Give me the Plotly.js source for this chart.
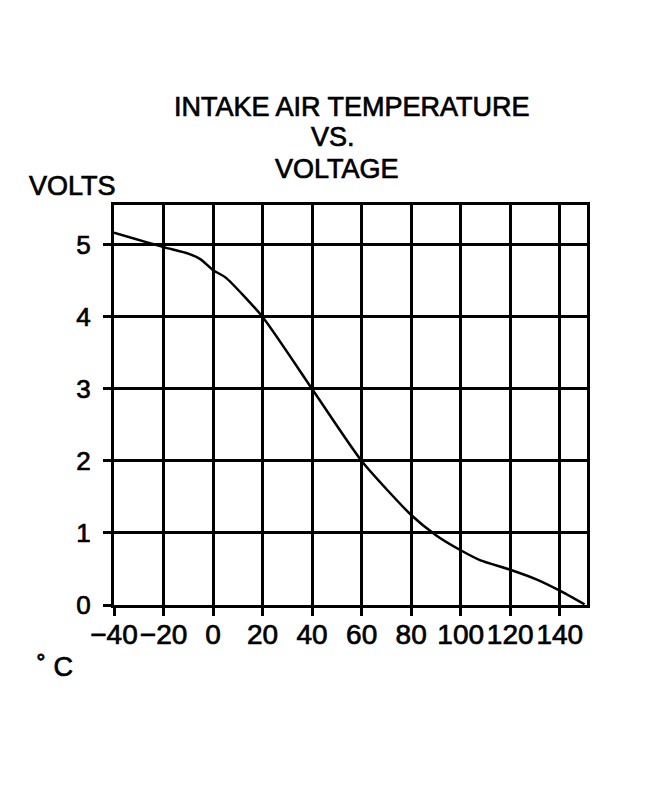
<!DOCTYPE html>
<html>
<head>
<meta charset="utf-8">
<script src="https://cdn.plot.ly/plotly-3.0.1.min.js"></script>
<style>
  html, body { margin: 0; padding: 0; background: #fff; }
  #chart { width: 672px; height: 786px; }
  /* the scan's lettering is heavier than the regular face */
  #chart .main-svg text { stroke: #000; stroke-width: 0.7px; }
</style>
</head>
<body>
<div id="chart"></div>
<script>
// Intake air temperature sensor curve
const tempC = [-40, -20, -10, -5, 0, 5, 20, 40, 60, 80, 90, 100, 108, 120, 131, 140, 150];
const volts = [5.17, 4.97, 4.88, 4.80, 4.65, 4.55, 4.00, 3.00, 2.00, 1.25, 0.97, 0.76, 0.62, 0.49, 0.35, 0.20, 0.01];

const xTicks = [-40, -20, 0, 20, 40, 60, 80, 100, 120, 140];
const yTicks = [0, 1, 2, 3, 4, 5];

const font = "Liberation Sans, Arial, Helvetica, sans-serif";
const ink = "#000";

const axisBase = {
  showgrid: true,
  gridcolor: ink,
  gridwidth: 3,
  showline: true,
  linecolor: ink,
  linewidth: 3,
  mirror: true,
  zeroline: false,
  ticks: "outside",
  ticklen: 8,
  tickwidth: 3,
  tickcolor: ink,
  fixedrange: true,
};

const layout = {
  width: 672,
  height: 786,
  margin: { l: 114, r: 85, t: 205, b: 181 },
  paper_bgcolor: "#fff",
  plot_bgcolor: "#fff",
  showlegend: false,
  font: { family: font, color: ink, size: 27 },
  xaxis: Object.assign({}, axisBase, {
    range: [-40, 151],
    tickvals: xTicks,
    ticktext: xTicks.map((v) => (v < 0 ? "\u2212" + Math.abs(v) : String(v))),
    tickfont: { family: font, size: 28, color: ink },
    ticklabelstandoff: -6,
  }),
  yaxis: Object.assign({}, axisBase, {
    range: [0, 5.555],
    tickvals: yTicks,
    tickfont: { family: font, size: 26, color: ink },
    ticklabelstandoff: 7,
  }),
  annotations: [
    { text: "INTAKE AIR TEMPERATURE", x: 0.504, y: 1.244 },
    { text: "VS.", x: 0.462, y: 1.169 },
    { text: "VOLTAGE", x: 0.471, y: 1.09 },
    { text: "VOLTS", x: -0.0877, y: 1.0475 },
    { text: "\u02DA C", x: -0.125, y: -0.155 },
  ].map((a) => Object.assign({
    xref: "paper",
    yref: "paper",
    xanchor: "center",
    yanchor: "middle",
    showarrow: false,
    font: { family: font, size: 27, color: ink },
  }, a)),
};

Plotly.newPlot(
  "chart",
  [
    {
      x: tempC,
      y: volts,
      mode: "lines",
      line: { color: ink, width: 2.5, shape: "spline", smoothing: 0.6 },
      cliponaxis: false,
      hoverinfo: "skip",
    },
  ],
  layout,
  { staticPlot: true, displayModeBar: false },
);
</script>
</body>
</html>
